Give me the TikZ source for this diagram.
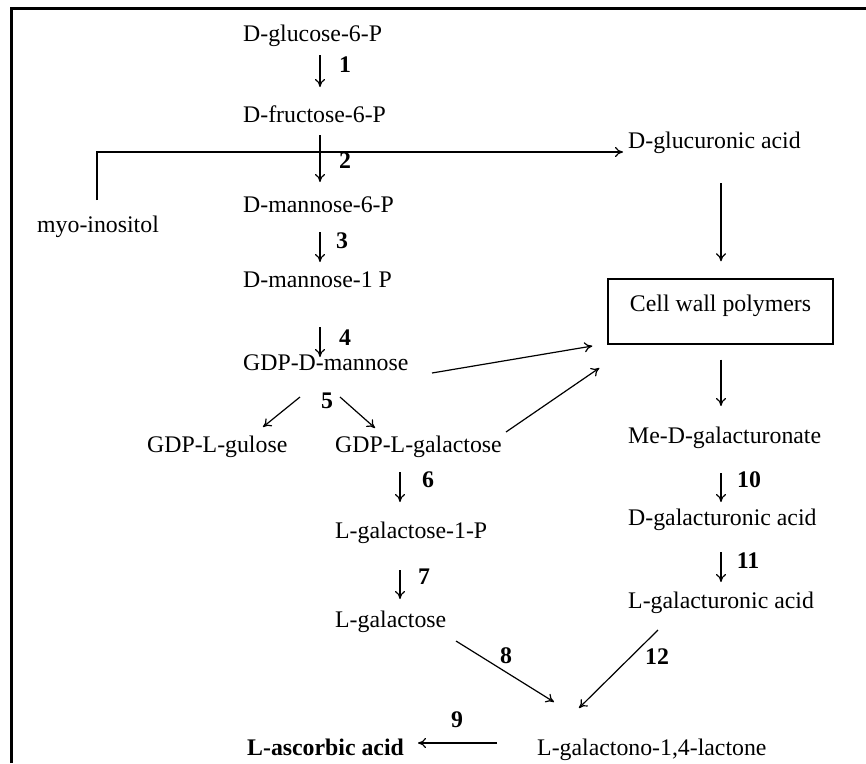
\documentclass[tikz,border=0pt]{standalone}
\usepackage{fontspec}
\setmainfont{Liberation Serif}
\usetikzlibrary{arrows.meta,calc}
\begin{document}
\begin{tikzpicture}[x=1pt,y=-1pt,
  txt/.style={anchor=base west,inner sep=0pt,font=\fontsize{23.8}{28}\selectfont},
  num/.style={anchor=base,inner sep=0pt,font=\fontsize{23.8}{28}\selectfont\bfseries},
  arr/.style={line width=1.2pt,-{To[length=8pt,width=10pt]}},
  frame/.style={line width=3pt}]
\useasboundingbox (0,0) rectangle (866,763);
\draw[frame] (11,763) -- (11,8) -- (866,8);
% nodes
\node[txt] (g6p)  at (243,41)  {D-glucose-6-P};
\node[txt] (f6p)  at (243,122) {D-fructose-6-P};
\node[txt] (m6p)  at (243,212) {D-mannose-6-P};
\node[txt] (myo)  at (37,232)  {myo-inositol};
\node[txt] (m1p)  at (243,287) {D-mannose-1 P};
\node[txt] (gdpm) at (243,370) {GDP-D-mannose};
\node[txt] (gul)  at (147,452) {GDP-L-gulose};
\node[txt] (gal)  at (335,452) {GDP-L-galactose};
\node[txt] (l1p)  at (335,538) {L-galactose-1-P};
\node[txt] (lgal) at (335,627) {L-galactose};
\node[txt] (glca) at (628,148) {D-glucuronic acid};
\node[draw,line width=1.4pt,inner sep=0pt,minimum width=225pt,minimum height=65pt,
      text height=16pt,text depth=17pt,font=\fontsize{23.8}{28}\selectfont]
      (box) at (720.5,311.5) {Cell wall polymers};
\node[txt] (medg) at (628,443) {Me-D-galacturonate};
\node[txt] (dgua) at (628,525) {D-galacturonic acid};
\node[txt] (lgua) at (628,608) {L-galacturonic acid};
\node[txt] (lac)  at (537,755) {L-galactono-1,4-lactone};
\node[txt,font=\fontsize{23.8}{28}\selectfont\bfseries] (asc) at (247,755) {L-ascorbic acid};
% step numbers
\node[num] (n1)  at (345,72)  {1};
\node[num] (n2)  at (345,168) {2};
\node[num] (n3)  at (342,248) {3};
\node[num] (n4)  at (345,345) {4};
\node[num] (n5)  at (327,408) {5};
\node[num] (n6)  at (428,487) {6};
\node[num] (n7)  at (424,584) {7};
\node[num] (n8)  at (506,663) {8};
\node[num] (n9)  at (457,727) {9};
\node[num] (n10) at (749,487) {10};
\node[num] (n11) at (748,568) {11};
\node[num] (n12) at (657,664) {12};
% connectors
\draw[arr] ($(g6p.base west)+(77,14)$) -- ($(f6p.base west)+(77,-35)$);
\draw[arr] ($(f6p.base west)+(77,13)$) -- ($(m6p.base west)+(77,-30)$);
\draw[arr] ($(m6p.base west)+(77,20)$) -- ($(m1p.base west)+(77,-25)$);
\draw[arr] ($(m1p.base west)+(77,40)$) -- ($(gdpm.base west)+(77,-13)$);
\draw[arr] ($(gdpm.base west)+(57,27)$) -- ($(gul.base west)+(116,-25)$);
\draw[arr] ($(gdpm.base west)+(97,27)$) -- ($(gal.base west)+(40,-24)$);
\draw[arr] ($(gal.base west)+(65,20)$) -- ($(l1p.base west)+(65,-36)$);
\draw[arr] ($(l1p.base west)+(65,32)$) -- ($(lgal.base west)+(65,-28)$);
\draw[arr] ($(lgal.base west)+(121,14)$) -- ($(lac.base west)+(17,-53)$);
\draw[arr] ($(lgua.base west)+(30,22)$) -- ($(lac.base west)+(42,-47)$);
\draw[arr] ($(lac.base west)+(-40,-12)$) -- ($(asc.base west)+(171,-12)$);
\draw[arr] ($(medg.base west)+(93,30)$) -- ($(dgua.base west)+(93,-23)$);
\draw[arr] ($(dgua.base west)+(93,27)$) -- ($(lgua.base west)+(93,-26)$);
\draw[arr] ($(glca.base west)+(93,35)$) -- ($(box.north)+(0.5,-17)$);
\draw[arr] ($(box.south)+(0.5,15)$) -- ($(medg.base west)+(93,-37)$);
\draw[arr] ($(gdpm.base west)+(189,3)$) -- ($(box.west)+(-15,34.5)$);
\draw[arr] ($(gal.base west)+(171,-20)$) -- ($(box.west)+(-8,56.5)$);
\draw[arr] ($(myo.base west)+(60,-32)$) |- ($(glca.base west)+(-5,4)$);
\end{tikzpicture}
\end{document}
